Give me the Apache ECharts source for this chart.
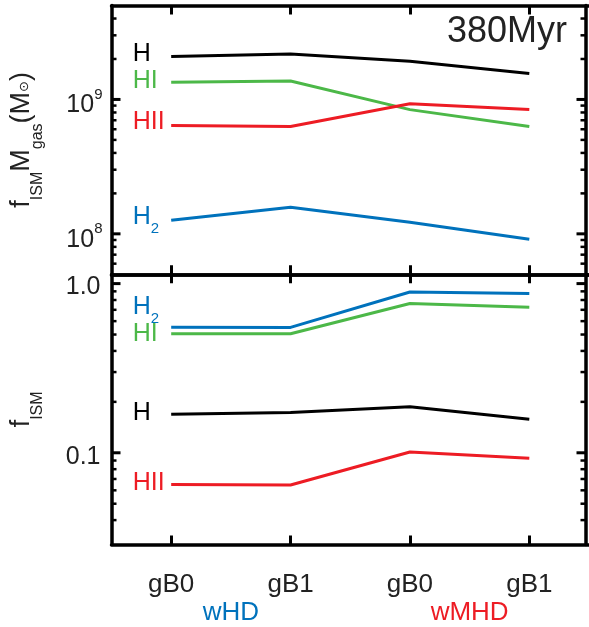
<!DOCTYPE html>
<html>
<head>
<meta charset="utf-8">
<script src="https://cdn.jsdelivr.net/npm/echarts@6/dist/echarts.min.js"></script>
<style>
  html, body { margin: 0; padding: 0; background: #fff; }
  #chart { width: 589px; height: 627px; }
</style>
</head>
<body>
<div id="chart"></div>
<script>
// Runs along the x axis, and the physics group each pair belongs to
const categories = ['gB0', 'gB1', 'gB0', 'gB1'];
const groups = ['wHD', 'wMHD'];

// Upper panel: gas mass per phase, f_ISM * M_gas (solar masses)
const massH   = [2.09e9, 2.18e9, 1.92e9, 1.56e9];
const massHI  = [1.34e9, 1.37e9, 8.4e8, 6.3e8];
const massHII = [6.4e8, 6.3e8, 9.3e8, 8.4e8];
const massH2  = [1.26e8, 1.58e8, 1.22e8, 9.1e7];

// Lower panel: ISM fraction per phase
const fracH   = [0.169, 0.173, 0.187, 0.158];
const fracHI  = [0.505, 0.505, 0.762, 0.725];
const fracHII = [0.065, 0.0645, 0.101, 0.0927];
const fracH2  = [0.553, 0.551, 0.892, 0.873];

// Axis extents and tick positions (log axes)
const massRange = [5e7, 5e9];
const fracRange = [0.0287, 1.135];
const massTicks = [6e7, 7e7, 8e7, 9e7, 1e8, 2e8, 3e8, 4e8, 5e8, 6e8, 7e8, 8e8, 9e8, 1e9, 2e9, 3e9, 4e9];
const fracTicks = [0.04, 0.05, 0.06, 0.07, 0.08, 0.09, 0.1, 0.2, 0.3, 0.4, 0.5, 0.6, 0.7, 0.8, 0.9, 1.0];

const COLORS = { H: '#000000', HI: '#4cb848', HII: '#ed1c24', H2: '#0072bc' };
const FONT = '"Liberation Sans", Arial, Helvetica, sans-serif';
const TEXT = '#222222';
const FRAME_W = 3.5;
const RIGHT_INSET = 3.5;   // right frame sits slightly inside the last band

const chart = echarts.init(document.getElementById('chart'), null, { renderer: 'canvas' });

const labelRich = {
  m: { fontSize: 25, fontFamily: FONT, verticalAlign: 'top' },
  s: { fontSize: 15, fontFamily: FONT, verticalAlign: 'top', padding: [16.5, 0, 0, 0] }
};

function isDecade(v) {
  const l = Math.log10(v);
  return Math.abs(l - Math.round(l)) < 1e-6;
}

function lineSeries(name, values, color, axisIdx, text, dy) {
  return {
    type: 'line',
    name: name,
    xAxisIndex: axisIdx,
    yAxisIndex: axisIdx,
    animation: false,
    symbol: 'circle',
    symbolSize: 0,
    showSymbol: true,
    lineStyle: { color: color, width: 3 },
    itemStyle: { color: color },
    z: 3,
    data: values.map((v, i) => i === 0 ? {
      value: v,
      label: {
        show: true,
        formatter: text,
        position: 'left',
        distance: 0,
        align: 'left',
        offset: [-38.5, dy],
        color: color,
        fontSize: 25,
        fontFamily: FONT,
        rich: {
          m: Object.assign({}, labelRich.m, { color: color }),
          s: Object.assign({}, labelRich.s, { color: color })
        }
      }
    } : v)
  };
}

// Inward major/minor ticks on both vertical frame edges of a log panel
function tickSeries(axisIdx, values) {
  return {
    type: 'custom',
    xAxisIndex: axisIdx,
    yAxisIndex: axisIdx,
    silent: true,
    animation: false,
    z: 6,
    data: values.map(v => [0, v]),
    renderItem: function (params, api) {
      const cs = params.coordSys;
      const v = api.value(1);
      const y = api.coord([0, v])[1];
      const major = isDecade(v);
      const len = major ? 9 : 5;
      const lw = major ? 3 : 2.5;
      const xl = cs.x;
      const xr = cs.x + cs.width - RIGHT_INSET;
      return {
        type: 'group',
        children: [
          { type: 'line', shape: { x1: xl, y1: y, x2: xl + len, y2: y }, style: { stroke: '#000', lineWidth: lw } },
          { type: 'line', shape: { x1: xr, y1: y, x2: xr - len, y2: y }, style: { stroke: '#000', lineWidth: lw } }
        ]
      };
    }
  };
}

function catAxis(gridIndex, position, showLabels) {
  return {
    type: 'category',
    gridIndex: gridIndex,
    position: position,
    data: categories,
    boundaryGap: true,
    axisLine: { show: true, lineStyle: { color: '#000', width: FRAME_W } },
    axisTick: { show: true, inside: true, alignWithLabel: true, length: 9, lineStyle: { color: '#000', width: 3 } },
    axisLabel: { show: showLabels, margin: 27, fontSize: 26, fontFamily: FONT, color: TEXT },
    splitLine: { show: false }
  };
}

function logAxis(gridIndex, position, range, extra) {
  return Object.assign({
    type: 'log',
    logBase: 10,
    gridIndex: gridIndex,
    position: position,
    min: range[0],
    max: range[1],
    axisLine: { show: true, lineStyle: { color: '#000', width: FRAME_W } },
    axisTick: { show: false },
    splitLine: { show: false },
    minorTick: { show: false },
    axisLabel: { show: false }
  }, extra || {});
}

const option = {
  backgroundColor: '#fff',
  animation: false,
  grid: [
    { left: 109.5, top: 5.5, width: 480, height: 268.8 },
    { left: 109.5, top: 274.3, width: 480, height: 270.2 }
  ],
  xAxis: [
    catAxis(0, 'bottom', false),
    catAxis(0, 'top', false),
    catAxis(1, 'bottom', true),
    catAxis(1, 'top', false),
    {
      type: 'category',
      gridIndex: 1,
      position: 'bottom',
      data: [
        { value: groups[0], textStyle: { color: COLORS.H2 } },
        { value: groups[1], textStyle: { color: COLORS.HII } }
      ],
      boundaryGap: true,
      axisLine: { show: false },
      axisTick: { show: false },
      axisLabel: { show: true, margin: 55, fontSize: 26, fontFamily: FONT },
      splitLine: { show: false }
    }
  ],
  yAxis: [
    logAxis(0, 'left', massRange, {
      axisLabel: {
        show: true,
        margin: 9,
        showMinLabel: false,
        showMaxLabel: false,
        color: TEXT,
        formatter: function (v) {
          if (!isDecade(v)) return '';
          return '{m|10}{e|' + Math.round(Math.log10(v)) + '}';
        },
        rich: {
          m: { fontSize: 25, fontFamily: FONT, color: TEXT, verticalAlign: 'bottom', padding: [12, 0, 0, 0] },
          e: { fontSize: 15, fontFamily: FONT, color: TEXT, verticalAlign: 'top', padding: [6, 0, 0, 0] }
        }
      },
      name: '{f|f}{s|ISM}{f|M}{s|gas}{f|(M}{o|\u2299}{f|)}',
      nameLocation: 'middle',
      nameRotate: 90,
      nameGap: 66,
      nameTextStyle: {
        color: TEXT,
        rich: {
          f: { fontSize: 27, fontFamily: FONT, color: TEXT, verticalAlign: 'top' },
          s: { fontSize: 16, fontFamily: FONT, color: TEXT, verticalAlign: 'top', padding: [21.5, 0, 0, 0] },
          o: { fontSize: 13, fontFamily: '"DejaVu Sans", sans-serif', color: TEXT, verticalAlign: 'top', padding: [10, 0, 0, 0] }
        }
      }
    }),
    logAxis(0, 'right', massRange, { offset: -RIGHT_INSET }),
    logAxis(1, 'left', fracRange, {
      axisLabel: {
        show: true,
        margin: 11,
        showMinLabel: false,
        showMaxLabel: false,
        color: TEXT,
        formatter: function (v) {
          if (!isDecade(v)) return '';
          const txt = Math.abs(v - 1) < 1e-9 ? '1.0' : String(+v.toPrecision(3));
          return '{v|' + txt + '}';
        },
        rich: {
          v: { fontSize: 25, fontFamily: FONT, color: TEXT, verticalAlign: 'bottom', padding: [8, 0, 0, 0] }
        }
      },
      name: '{f|f}{s|ISM}',
      nameLocation: 'middle',
      nameRotate: 90,
      nameGap: 66,
      nameTextStyle: {
        color: TEXT,
        rich: {
          f: { fontSize: 27, fontFamily: FONT, color: TEXT, verticalAlign: 'top' },
          s: { fontSize: 16, fontFamily: FONT, color: TEXT, verticalAlign: 'top', padding: [21.5, 0, 0, 0] }
        }
      }
    }),
    logAxis(1, 'right', fracRange, { offset: -RIGHT_INSET })
  ],
  graphic: [
    {
      type: 'text',
      right: 22,
      top: 14,
      style: { text: '380Myr', fontSize: 36, fontFamily: FONT, fill: TEXT }
    }
  ],
  series: [
    tickSeries(0, massTicks),
    tickSeries(2, fracTicks),
    lineSeries('H', massH, COLORS.H, 0, '{m|H}', -2),
    lineSeries('HI', massHI, COLORS.HI, 0, '{m|HI}', -1),
    lineSeries('HII', massHII, COLORS.HII, 0, '{m|HII}', -3),
    lineSeries('H2', massH2, COLORS.H2, 0, '{m|H}{s|2}', 0),
    lineSeries('H', fracH, COLORS.H, 2, '{m|H}', -1.5),
    lineSeries('HI', fracHI, COLORS.HI, 2, '{m|HI}', 0),
    lineSeries('HII', fracHII, COLORS.HII, 2, '{m|HII}', -1.5),
    lineSeries('H2', fracH2, COLORS.H2, 2, '{m|H}{s|2}', -17)
  ]
};

chart.setOption(option);
</script>
</body>
</html>
